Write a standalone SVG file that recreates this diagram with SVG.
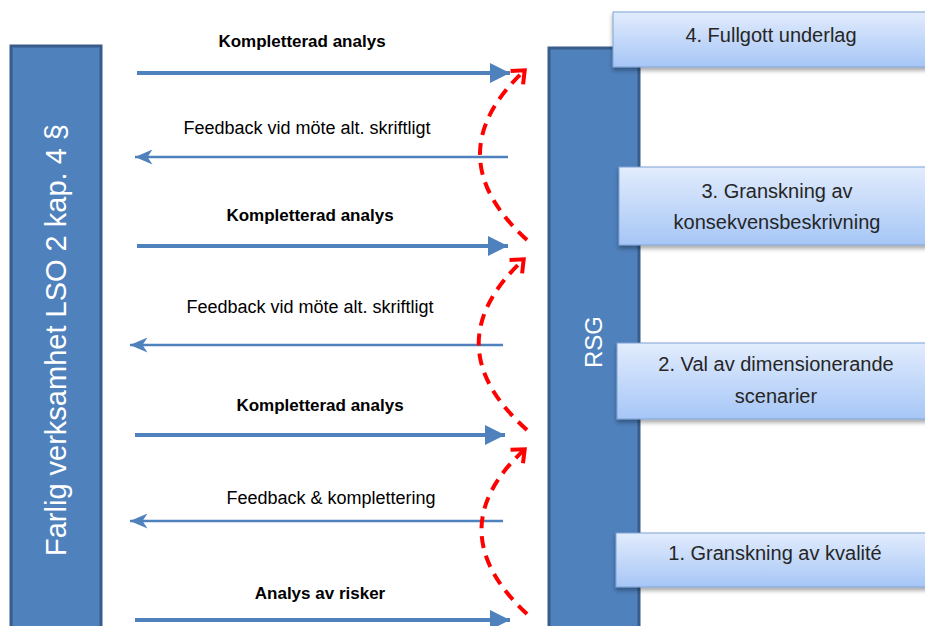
<svg xmlns="http://www.w3.org/2000/svg" width="925" height="626" viewBox="0 0 925 626">
<style>
.bar{fill:#4F81BD;stroke:#385D8A;stroke-width:3}
.box{fill:url(#g);stroke:#7FA3D4;stroke-width:1;filter:url(#sh)}
.bt{font-family:"Liberation Sans",Arial,sans-serif;font-size:20px;fill:#262626;text-anchor:middle}
.lb{font-family:"Liberation Sans",Arial,sans-serif;font-size:17px;font-weight:bold;fill:#000;text-anchor:middle}
.lf{font-family:"Liberation Sans",Arial,sans-serif;font-size:18px;fill:#000;text-anchor:middle}
.wt{font-family:"Liberation Sans",Arial,sans-serif;fill:#fff;text-anchor:middle}
.ar{stroke:#4F81BD;stroke-width:4;fill:none;marker-end:url(#ah)}
.al{stroke:#4F81BD;stroke-width:2.5;fill:none;marker-end:url(#ah2)}
.rd{stroke:#FF0000;stroke-width:4;fill:none;stroke-dasharray:12 8;marker-end:url(#rh)}
</style>
<defs>
<linearGradient id="g" x1="0" y1="0" x2="0" y2="1">
<stop offset="0" stop-color="#E2ECFD"/>
<stop offset="1" stop-color="#A6C6F6"/>
</linearGradient>
<filter id="sh" x="-10%" y="-20%" width="130%" height="160%">
<feDropShadow dx="0" dy="3" stdDeviation="2" flood-color="#000" flood-opacity="0.35"/>
</filter>
<marker id="ah" markerWidth="6" markerHeight="5" refX="5" refY="2.5" orient="auto" markerUnits="strokeWidth">
<path d="M0,0 L5,2.5 L0,5 Z" fill="#4F81BD"/>
</marker>
<marker id="ah2" markerWidth="8" markerHeight="6" refX="7" refY="3" orient="auto" markerUnits="strokeWidth">
<path d="M0,0 L7,3 L0,6 L2,3 Z" fill="#4F81BD"/>
</marker>
<marker id="rh" markerWidth="6" markerHeight="6" refX="3.5" refY="3" orient="auto" markerUnits="strokeWidth">
<path d="M0.7,0.7 L3.4,3 L0.7,5.3" fill="none" stroke="#FF0000" stroke-width="1"/>
</marker>
</defs>
<g id="left-bar">
<rect class="bar" x="11" y="46" width="90" height="600"/>
<text class="wt" font-size="29" transform="translate(66,340) rotate(-90)">Farlig verksamhet LSO 2 kap. 4 §</text>
</g>
<g id="rsg-bar">
<rect class="bar" x="549" y="48" width="90" height="600"/>
<text class="wt" font-size="24" transform="translate(602,342) rotate(-90)">RSG</text>
</g>
<g id="box4">
<rect class="box" x="613" y="12" width="320" height="55"/>
<text class="bt" x="771" y="42">4. Fullgott underlag</text>
</g>
<g id="box3">
<rect class="box" x="619" y="167" width="320" height="78"/>
<text class="bt" x="777" y="198">3. Granskning av</text>
<text class="bt" x="777" y="229">konsekvensbeskrivning</text>
</g>
<g id="box2">
<rect class="box" x="617" y="343" width="320" height="76"/>
<text class="bt" x="776" y="371">2. Val av dimensionerande</text>
<text class="bt" x="776" y="403">scenarier</text>
</g>
<g id="box1">
<rect class="box" x="616" y="533" width="320" height="54"/>
<text class="bt" x="775" y="560">1. Granskning av kvalité</text>
</g>
<g id="connectors">
<line class="ar" x1="137" y1="73" x2="510" y2="73"/>
<line class="al" x1="508" y1="157" x2="135" y2="157"/>
<line class="ar" x1="137" y1="246" x2="508" y2="246"/>
<line class="al" x1="503" y1="345" x2="130" y2="345"/>
<line class="ar" x1="135" y1="435" x2="505" y2="435"/>
<line class="al" x1="503" y1="521" x2="130" y2="521"/>
<line class="ar" x1="135" y1="620" x2="510" y2="620"/>
<path class="rd" d="M527,614 Q437,530 525,449"/>
<path class="rd" d="M527,430 Q432,345 524,259"/>
<path class="rd" d="M527,240 Q434,155 525,70"/>
</g>
<g id="labels">
<text class="lb" x="302" y="47">Kompletterad analys</text>
<text class="lf" x="307" y="134">Feedback vid möte alt. skriftligt</text>
<text class="lb" x="310" y="221">Kompletterad analys</text>
<text class="lf" x="310" y="313">Feedback vid möte alt. skriftligt</text>
<text class="lb" x="320" y="411">Kompletterad analys</text>
<text class="lf" x="331" y="504">Feedback &amp; komplettering</text>
<text class="lb" x="320" y="599">Analys av risker</text>
</g>
</svg>
